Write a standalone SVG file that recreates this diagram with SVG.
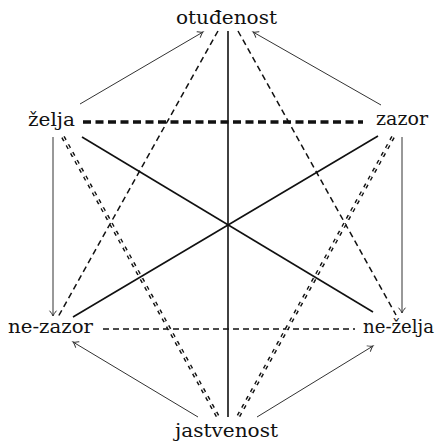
<svg xmlns="http://www.w3.org/2000/svg" width="443" height="442" viewBox="0 0 443 442">
<defs>
<marker id="arr" markerUnits="userSpaceOnUse" markerWidth="12" markerHeight="12" refX="0" refY="0" viewBox="-8 -6 10 12" orient="auto" overflow="visible">
<path d="M-5,-3.2 Q-2,-0.6 0,0 Q-2,0.6 -5,3.2" fill="none" stroke="#333" stroke-width="1" stroke-linecap="round"/>
</marker>
<style>
.lbl{font-family:'DejaVu Serif','Liberation Serif',serif;font-size:19px;fill:#111}
.solid{stroke:#111;stroke-width:1.6;fill:none}
.dash{stroke:#111;stroke-width:1.5;stroke-dasharray:6 4;fill:none}
.thick{stroke:#111;stroke-width:3.6;stroke-dasharray:8 4.5;fill:none}
.dbl-o{stroke:#111;stroke-width:4;stroke-dasharray:4 5;fill:none}
.dbl-i{stroke:#fff;stroke-width:1.1;stroke-dasharray:4 5;fill:none}
.arrow{stroke:#333;stroke-width:1;fill:none;marker-end:url(#arr)}
</style>
</defs>
<rect width="443" height="442" fill="#fff"/>
<g id="connectors">
<line class="solid" x1="228" y1="31" x2="228" y2="417"/>
<line class="solid" x1="82" y1="137" x2="373" y2="312"/>
<line class="solid" x1="378" y1="136" x2="73" y2="317"/>
<line class="thick" x1="83" y1="122" x2="363" y2="122"/>
<line class="dash" x1="103" y1="329" x2="355" y2="329"/>
<line class="dash" x1="218" y1="31" x2="58" y2="317"/>
<line class="dash" x1="238" y1="31" x2="396" y2="315"/>
<line class="dbl-o" x1="63" y1="137" x2="218" y2="417"/>
<line class="dbl-i" x1="63" y1="137" x2="218" y2="417"/>
<line class="dbl-o" x1="393" y1="137" x2="238" y2="417"/>
<line class="dbl-i" x1="393" y1="137" x2="238" y2="417"/>
<line class="arrow" x1="80" y1="104" x2="203" y2="32"/>
<line class="arrow" x1="381" y1="105" x2="253" y2="32"/>
<line class="arrow" x1="53" y1="137" x2="53" y2="316"/>
<line class="arrow" x1="402" y1="137" x2="402" y2="313"/>
<line class="arrow" x1="198" y1="417" x2="73" y2="342"/>
<line class="arrow" x1="257" y1="417" x2="373" y2="346"/>
</g>
<g id="otudenost"><text class="lbl" x="176" y="24" textLength="101" lengthAdjust="spacingAndGlyphs">otuđenost</text></g>
<g id="zelja"><text class="lbl" x="28" y="126" textLength="47" lengthAdjust="spacingAndGlyphs">želja</text></g>
<g id="zazor"><text class="lbl" x="376" y="125" textLength="52" lengthAdjust="spacingAndGlyphs">zazor</text></g>
<g id="ne-zazor"><text class="lbl" x="8" y="333" textLength="85" lengthAdjust="spacingAndGlyphs">ne-zazor</text></g>
<g id="ne-zelja"><text class="lbl" x="363" y="333" textLength="71" lengthAdjust="spacingAndGlyphs">ne-želja</text></g>
<g id="jastvenost"><text class="lbl" x="175" y="437" textLength="103" lengthAdjust="spacingAndGlyphs">jastvenost</text></g>
</svg>
